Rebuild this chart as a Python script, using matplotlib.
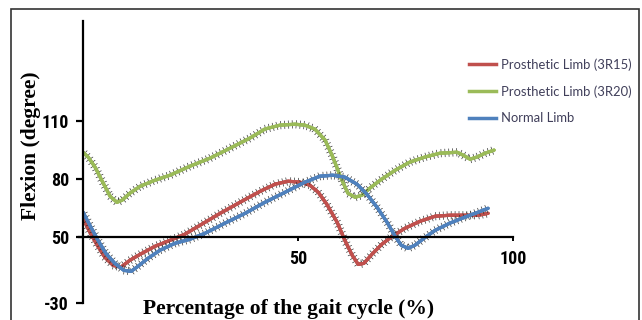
import numpy as np
import matplotlib
matplotlib.use("Agg")
import matplotlib.pyplot as plt
from matplotlib import patheffects as pe
from matplotlib import font_manager
from matplotlib.lines import Line2D
from matplotlib.patches import Rectangle

# gait cycle (%) / flexion readings
x_3r15 = [0, 1.6, 3.3, 5.1, 7.0, 8.8, 10.9, 13.3, 16.7, 20.2, 23.7, 27.2, 31.9, 36.5, 41.2,
          44.7, 47.7, 50.5, 52.8, 54.7, 56.7, 59.1, 60.9, 62.6, 64.0, 65.3, 67.2, 69.5,
          71.9, 74.9, 78.4, 81.9, 85.3, 88.8, 91.9, 94.2]
y_3r15 = [59.8, 52.6, 45.9, 39.6, 35.5, 34.5, 38.1, 41.2, 45.3, 48.4, 51.6, 56.2, 62.4, 68.1,
          73.8, 77.5, 79.0, 78.5, 76.9, 73.3, 67.1, 57.8, 48.4, 40.7, 36.0, 36.5, 41.2, 46.4,
          50.5, 54.7, 58.3, 60.9, 61.4, 61.4, 61.4, 62.4]

x_3r20 = [0, 1.2, 2.8, 4.7, 6.3, 7.9, 9.1, 10.9, 13.3, 16.7, 20.2, 24.9, 29.5, 34.2, 38.8,
          42.3, 45.8, 49.3, 51.6, 53.9, 56.3, 58.1, 60.0, 61.6, 63.3, 64.9, 66.7, 69.1,
          72.6, 76.0, 79.5, 83.0, 87.0, 88.4, 90.0, 91.6, 93.5, 95.6]
y_3r20 = [94.0, 91.5, 86.3, 78.0, 71.2, 68.1, 69.2, 72.8, 76.4, 79.5, 82.1, 86.8, 90.9, 96.1,
          101.3, 106.0, 108.0, 108.5, 108.0, 106.0, 100.3, 91.5, 80.6, 72.8, 70.7, 71.8,
          75.4, 79.5, 84.7, 88.9, 91.5, 93.5, 94.0, 92.5, 90.4, 91.5, 93.5, 95.1]

x_normal = [0, 1.6, 3.5, 5.3, 7.4, 9.5, 11.2, 12.8, 15.1, 17.9, 21.4, 24.9, 28.4, 33.0, 37.7,
            42.3, 47.0, 51.6, 55.1, 58.1, 60.9, 63.7, 66.0, 68.4, 70.7, 72.6, 74.0, 75.6,
            77.2, 79.3, 81.9, 85.3, 88.8, 91.9, 94.2]
y_normal = [63.0, 56.2, 48.4, 41.7, 36.5, 32.9, 32.4, 35.0, 39.1, 43.3, 46.9, 49.0, 52.1, 57.3,
            62.4, 68.1, 73.3, 78.5, 81.6, 82.1, 81.1, 77.5, 72.3, 65.5, 57.8, 50.5, 45.9,
            44.3, 45.9, 49.5, 53.6, 57.3, 60.4, 63.0, 65.0]

labels = ["Prosthetic Limb (3R15)", "Prosthetic Limb (3R20)", "Normal Limb"]
colors = ["#c0504d", "#9bbb59", "#4f81bd"]

# the y axis of the original is not linear: -30 sits where ~16 would be
ytick_pos = [16, 50, 80, 110]
ytick_lab = ["-30", "50", "80", "110"]
xtick_pos = [50, 100]
xtick_lab = ["50", "100"]

# pick a narrow bold face for the tick numbers if one is there
have = {f.name for f in font_manager.fontManager.ttflist}
narrow = "Roboto"
for name in ["Liberation Sans Narrow", "Roboto Condensed", "DejaVu Sans Condensed"]:
    if name in have:
        narrow = name
        break

fig = plt.figure(figsize=(6.42, 3.2), dpi=100)
ax = fig.add_axes([83 / 642, 17 / 320, 430 / 642, 288 / 320])

ticks = [
    pe.withTickedStroke(spacing=2.8, angle=90, length=1.0, linewidth=0.5, foreground="#333333"),
    pe.withTickedStroke(spacing=2.8, angle=-90, length=1.0, linewidth=0.5, foreground="#333333"),
    pe.Normal(),
]

series = [(x_3r15, y_3r15), (x_3r20, y_3r20), (x_normal, y_normal)]
# green first so it sits under the others like the original
for i in [1, 0, 2]:
    xs, ys = series[i]
    ax.plot(xs, ys, color=colors[i], lw=2.3, solid_capstyle="round", path_effects=ticks)

ax.set_xlim(0, 100)
ax.set_ylim(16, 165)
for s in ["top", "right"]:
    ax.spines[s].set_visible(False)
ax.spines["bottom"].set_position(("data", 50))
ax.spines["bottom"].set_bounds(-1, 100)
ax.spines["left"].set_bounds(16, 162)
ax.spines["bottom"].set_linewidth(1.6)
ax.spines["left"].set_linewidth(1.6)

tick_font = dict(family=narrow, weight="bold", size=13)
ax.set_yticks(ytick_pos)
ax.set_yticklabels(ytick_lab, fontdict=tick_font)
ax.set_xticks(xtick_pos)
ax.set_xticklabels(xtick_lab, fontdict=tick_font)
ax.tick_params(axis="y", length=5, width=1.6, pad=5)
ax.tick_params(axis="x", length=3, width=1.4, pad=6)

fig.text(289 / 642, 1 - 309 / 320, "Percentage of the gait cycle (%)", ha="center", va="center",
         family="Liberation Serif", weight="bold", size=15.5)
fig.text(31 / 642, 1 - 146 / 320, "Flexion (degree)", ha="center", va="center", rotation=90,
         family="Liberation Serif", weight="bold", size=15.5)

handles = [Line2D([], [], color=c, lw=2.5) for c in colors]
fig.legend(handles, labels, loc="upper left", bbox_to_anchor=(469 / 642, 1 - 58 / 320),
           frameon=False, handlelength=2.1, handletextpad=0.35, labelspacing=1.12,
           borderpad=0, borderaxespad=0, prop=dict(family="Lato", size=9.4),
           labelcolor="#403f5a")

fig.add_artist(Rectangle((11 / 642, -0.05), 628 / 642, 1 - 9 / 320 + 0.05,
                         transform=fig.transFigure, fill=False, ec="#333333", lw=1.2))

fig.savefig("out.png", dpi=100)
